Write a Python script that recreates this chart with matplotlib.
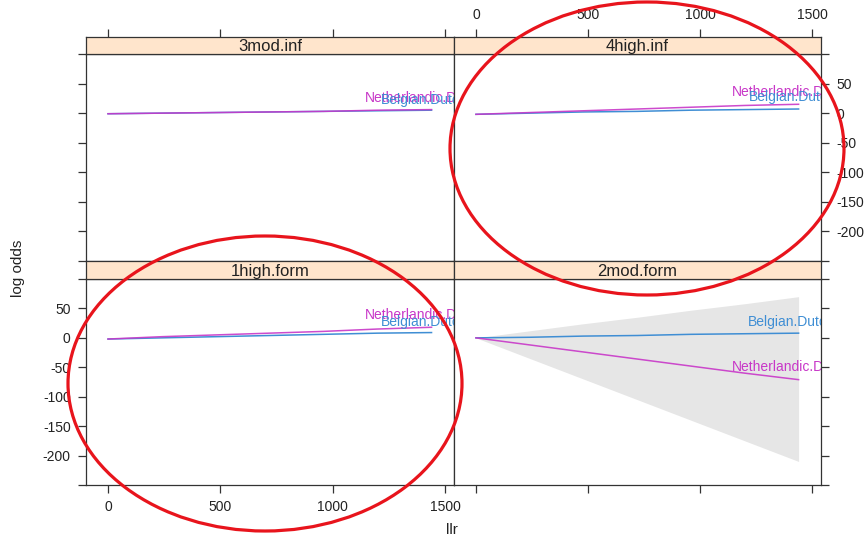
import matplotlib
matplotlib.use("Agg")
import matplotlib.pyplot as plt
from matplotlib.patches import Ellipse

plt.rcParams['font.family'] = ['Liberation Sans', 'DejaVu Sans']
plt.rcParams['axes.unicode_minus'] = False

llr = [0, 240, 480, 720, 960, 1200, 1440]

# log odds per panel
neth_3mod_inf = [-1, 0, 1, 2, 3, 5, 6]
belg_3mod_inf = [-1, 0, 1, 2, 3, 4, 5]
neth_4high_inf = [-2, 1, 4, 7, 10, 13, 15]
belg_4high_inf = [-2, 0, 2, 3, 5, 6, 7]
neth_1high_form = [-2, 2, 5, 8, 11, 15, 18]
belg_1high_form = [-2, 0, 2, 4, 6, 8, 9]
neth_2mod_form = [0, -12, -24, -36, -48, -60, -71]
belg_2mod_form = [0, 1, 3, 4, 6, 7, 8]
band_hi_2mod_form = [0, 12, 24, 35, 47, 58, 70]
band_lo_2mod_form = [0, -35, -70, -105, -140, -175, -210]

# label anchor points (x, y) for "Netherlandic.Dutch" and "Belgian.Dutch"
label_pos = {
    '3mod.inf': ((1144, 26), (1215, 23)),
    '4high.inf': ((1142, 36), (1216, 27)),
    '1high.form': ((1144, 39), (1215, 27)),
    '2mod.form': ((1140, -50), (1212, 27)),
}

panels = {
    '3mod.inf': (neth_3mod_inf, belg_3mod_inf, None, None),
    '4high.inf': (neth_4high_inf, belg_4high_inf, None, None),
    '1high.form': (neth_1high_form, belg_1high_form, None, None),
    '2mod.form': (neth_2mod_form, belg_2mod_form, band_hi_2mod_form, band_lo_2mod_form),
}

x_ticks = [0, 500, 1000, 1500]
y_ticks = [-250, -200, -150, -100, -50, 0, 50, 100]
y_ticklabels = ['', '-200', '-150', '-100', '-50', '0', '50', '']
xlim = (-98, 1540)
ylim = (-250, 100)

W, H = 867, 539
NETH = '#c837c8'
BELG = '#3f8ed4'
EDGE = '#333333'

fig = plt.figure(figsize=(W / 100, H / 100), dpi=100)


def px_axes(x0, y0, x1, y1):
    # pixel box (top-left origin) -> figure axes
    return fig.add_axes([x0 / W, 1 - y1 / H, (x1 - x0) / W, (y1 - y0) / H])


def style(ax):
    for s in ax.spines.values():
        s.set_color(EDGE)
        s.set_linewidth(0.9)
    ax.tick_params(direction='out', length=6, width=0.9, color=EDGE,
                   labelsize=10, labelcolor='#222222', pad=5)


layout = [
    # name, col x range, panel y range, strip y range, row, col
    ('3mod.inf', (86, 454), (54, 261), (37, 54), 'top', 'left'),
    ('4high.inf', (454, 821), (54, 261), (37, 54), 'top', 'right'),
    ('1high.form', (86, 454), (279, 485), (261, 279), 'bottom', 'left'),
    ('2mod.form', (454, 821), (279, 485), (261, 279), 'bottom', 'right'),
]

for name, (x0, x1), (py0, py1), (sy0, sy1), row, col in layout:
    neth, belg, hi, lo = panels[name]
    ax = px_axes(x0, py0, x1, py1)
    style(ax)
    if hi is not None:
        ax.fill_between(llr, lo, hi, color='#e6e6e6', lw=0)
    ax.plot(llr, belg, color=BELG, lw=1.1)
    ax.plot(llr, neth, color=NETH, lw=1.1, alpha=0.9)
    (nx, ny), (bx, by) = label_pos[name]
    ax.text(nx, ny, 'Netherlandic.Dutch', color=NETH, fontsize=10,
            va='center', ha='left', clip_on=True)
    ax.text(bx, by, 'Belgian.Dutch', color=BELG, fontsize=10,
            va='center', ha='left', clip_on=True)
    ax.set_xlim(xlim)
    ax.set_ylim(ylim)
    ax.set_yticks(y_ticks)
    ax.set_yticklabels(y_ticklabels)
    ax.set_xticks(x_ticks)
    ax.set_xticklabels([str(v) for v in x_ticks])

    if row == 'top':
        ax.tick_params(axis='x', bottom=False, labelbottom=False)
    else:
        ax.tick_params(axis='x', bottom=True, labelbottom=(col == 'left'))
    if col == 'left':
        ax.tick_params(axis='y', left=True, right=False,
                       labelleft=(row == 'bottom'), labelright=False)
    else:
        ax.tick_params(axis='y', left=False, right=True,
                       labelleft=False, labelright=(row == 'top'))

    st = px_axes(x0, sy0, x1, sy1)
    style(st)
    st.set_facecolor('#ffe5cc')
    st.set_xlim(xlim)
    st.set_ylim(0, 1)
    st.set_yticks([])
    st.text(0.5, 0.42, name, transform=st.transAxes, ha='center',
            va='center', fontsize=12, color='#222222')
    if row == 'top':
        st.set_xticks(x_ticks)
        st.set_xticklabels([str(v) for v in x_ticks])
        st.tick_params(axis='x', bottom=False, labelbottom=False, top=True,
                       labeltop=(col == 'right'))
    else:
        st.set_xticks([])

fig.text(452 / W, 1 - 530 / H, 'llr', ha='center', va='center',
         fontsize=11, color='#222222')
fig.text(18 / W, 1 - 268 / H, 'log odds', ha='center', va='center',
         rotation=90, fontsize=11, color='#222222')

# red hand-drawn ellipses on top of the figure
over = fig.add_axes([0, 0, 1, 1])
over.set_xlim(0, W)
over.set_ylim(H, 0)
over.axis('off')
over.patch.set_alpha(0)
over.add_patch(Ellipse((647, 148.5), 394, 293, fill=False, ec='#e8141c',
                       lw=2.3, clip_on=False))
over.add_patch(Ellipse((265, 383.5), 394, 295, fill=False, ec='#e8141c',
                       lw=2.3, clip_on=False))

fig.savefig('out.png', dpi=100)
